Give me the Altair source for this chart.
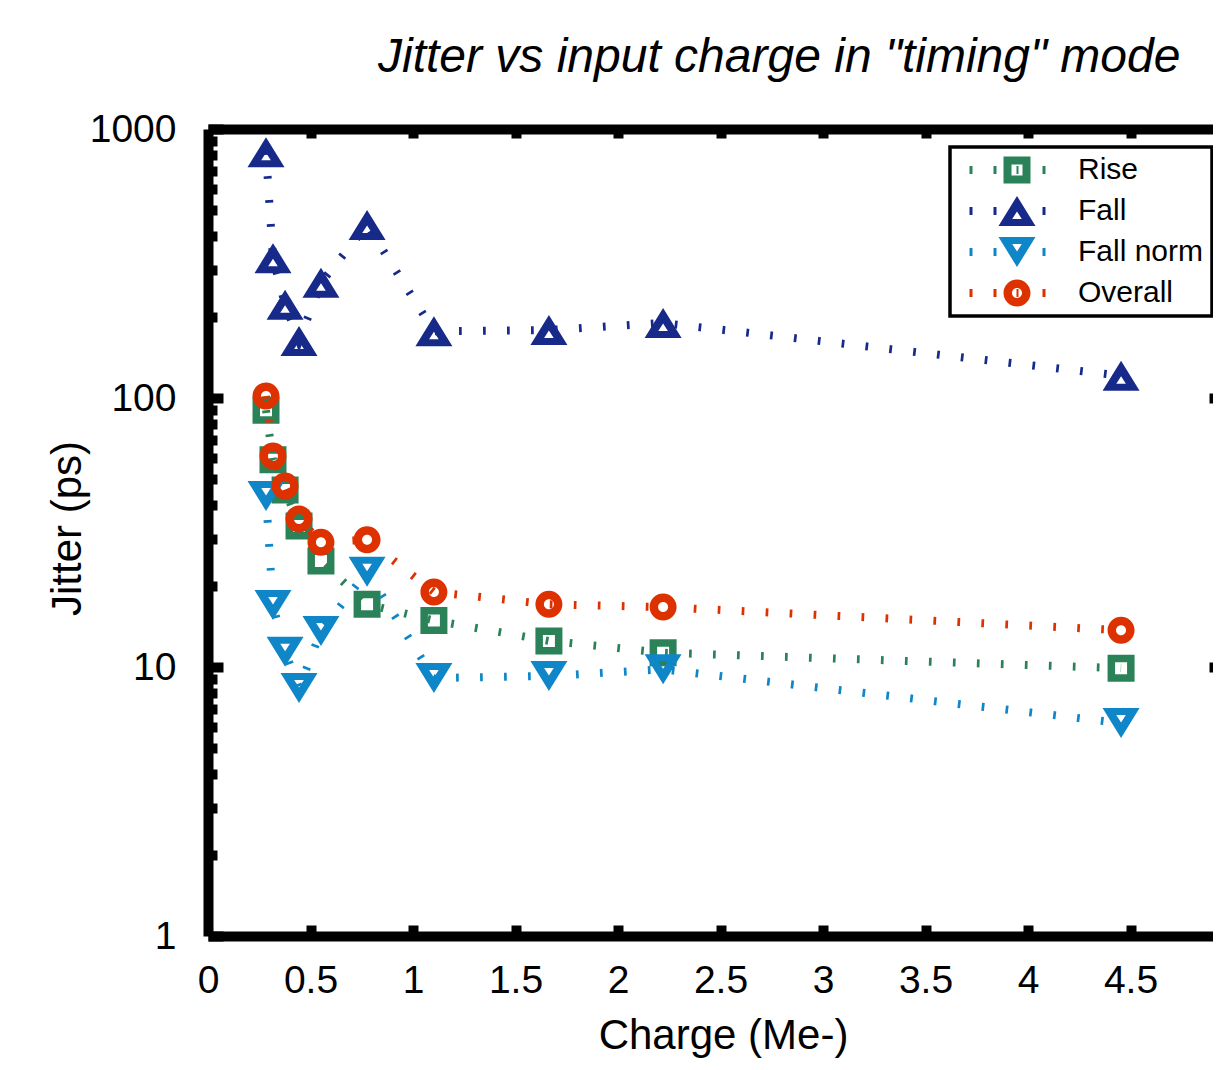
import altair as alt
import pandas as pd

# ---------------- data ----------------
series = ["Rise", "Fall", "Fall norm", "Overall"]
colors = ["#2b8258", "#172a8a", "#0f86c8", "#dd3100"]
charge = [0.283, 0.317, 0.376, 0.444, 0.551, 0.776, 1.102, 1.663, 2.220, 4.454]
rise = [90, 58.9, 45.5, 33.4, 24.8, 17.1, 14.9, 12.5, 11.3, 9.9]
fall = [820, 331, 222, 163, 268, 440, 177, 179, 190, 121]
fall_norm = [43.2, 17.0, 11.4, 8.36, 13.6, 22.6, 9.1, 9.26, 9.8, 6.19]
overall = [101.7, 60.9, 47.1, 35.5, 29.1, 29.7, 19.0, 17.1, 16.7, 13.7]

x_labels = [0, 0.5, 1, 1.5, 2, 2.5, 3, 3.5, 4, 4.5]
x_tick_marks = [0.5, 1, 1.5, 2, 2.5, 3, 3.5, 4, 4.5, 5]
y_labels = [1, 10, 100, 1000]
y_minor = [2, 3, 4, 5, 6, 7, 8, 9, 20, 30, 40, 50, 60, 70, 80, 90,
           200, 300, 400, 500, 600, 700, 800, 900]
y_right = [10, 100]

values = rise + fall + fall_norm + overall
df = pd.DataFrame({
    "charge": charge * len(series),
    "jitter": values,
    "series": [s for s in series for _ in charge],
})

# ---------------- marker shapes (pixel units, size=4) ----------------
def dash(cx, w=3, h=8):
    return f"M{cx - w / 2},{-h / 2}h{w}v{h}h{-w}Z"

def square_ring(o, i):
    return f"M{-o},{-o}H{o}V{o}H{-o}Z M{-i},{-i}V{i}H{i}V{-i}Z"

def circle_ring(o, i):
    return (f"M{-o},0A{o},{o},0,1,0,{o},0A{o},{o},0,1,0,{-o},0Z "
            f"M{-i},0A{i},{i},0,1,1,{i},0A{i},{i},0,1,1,{-i},0Z")

tri_up = "M0,-15L18.5,15L-18.5,15Z M0,0.5L-4.8,8L4.8,8Z"
tri_down = "M0,15L-18.5,-15L18.5,-15Z M0,-0.5L4.8,-8L-4.8,-8Z"

plot_shapes = [square_ring(13.5, 6), tri_up, tri_down, circle_ring(13.5, 5)]

side = " ".join(dash(d) for d in (-46, -22, 27))
legend_shapes = [
    side + " " + square_ring(13.5, 5.5) + " " + dash(0.5, 2, 8),
    side + " " + tri_up,
    side + " " + tri_down,
    side + " " + circle_ring(13.5, 5) + " " + dash(0.5, 2, 8),
]

FONT = "Liberation Sans"
W, H = 1005, 807
xs = alt.Scale(domain=[0, 5], range=[0, 1025], nice=False, zero=False)
ys = alt.Scale(type="log", domain=[1, 1000], nice=False)

base = alt.Chart(df)
layers = []
for s, c, shp in zip(series, colors, plot_shapes):
    sub = base.transform_filter(alt.datum.series == s)
    layers.append(
        sub.mark_line(color=c, strokeWidth=8, strokeDash=[2.7, 21.3]).encode(
            x=alt.X("charge:Q", scale=xs, axis=None),
            y=alt.Y("jitter:Q", scale=ys, axis=None),
        )
    )
    layers.append(
        sub.mark_point(shape=shp, size=4, filled=True, color=c, strokeWidth=0, opacity=1).encode(
            x=alt.X("charge:Q", scale=xs, axis=None),
            y=alt.Y("jitter:Q", scale=ys, axis=None),
        )
    )

# ---------------- legend ----------------
leg = dict(
    title=None, orient="none", legendX=742, legendY=18, padding=8,
    strokeColor="black", fillColor="white",
    labelFont=FONT, labelFontSize=30, labelColor="black", labelLimit=400,
    labelOffset=46, symbolOffset=44, symbolSize=4, symbolStrokeWidth=0,
    symbolOpacity=1, rowPadding=11,
)
legend_layer = base.transform_filter("datum.charge < 0").mark_point(
    size=4, filled=True, opacity=1, strokeWidth=0
).encode(
    x=alt.X("charge:Q", scale=xs, axis=None),
    y=alt.Y("jitter:Q", scale=ys, axis=None),
    color=alt.Color("series:N", scale=alt.Scale(domain=series, range=colors), legend=alt.Legend(**leg)),
    shape=alt.Shape("series:N", scale=alt.Scale(domain=series, range=legend_shapes), legend=alt.Legend(**leg)),
)
layers.append(legend_layer)

# ---------------- axes (carried by empty layers) ----------------
carrier = base.transform_filter("datum.charge < 0").mark_point(opacity=0)
common = dict(grid=False, domainColor="black", tickColor="black", labelColor="black", titleColor="black")

bottom_main = alt.Axis(orient="bottom", values=x_labels, format="~g", ticks=False, tickSize=0,
                       domain=True, domainWidth=10, labelFont=FONT, labelFontSize=39,
                       labelPadding=25, labelFlush=False, labelOverlap=False,
                       title="Charge (Me-)", titleFont=FONT, titleFontSize=42, titleFontWeight="normal",
                       titleBaseline="alphabetic", titleY=112, titleX=515, **common)
left_main = alt.Axis(orient="left", values=y_labels, format="d", ticks=False, tickSize=0,
                     domain=True, domainWidth=10, labelFont=FONT, labelFontSize=39,
                     labelPadding=32, labelOverlap=False,
                     title="Jitter (ps)", titleFont=FONT, titleFontSize=42, titleFontWeight="normal",
                     titleAngle=270, titleBaseline="alphabetic", titleX=-128, titleY=399, **common)
bottom_ticks = alt.Axis(orient="top", offset=-H, values=x_tick_marks, domain=False, labels=False,
                        ticks=True, tickSize=11, tickWidth=10, title=None, **common)
left_major = alt.Axis(orient="right", offset=-W, values=y_labels, domain=False, labels=False,
                      ticks=True, tickSize=15, tickWidth=10, title=None, **common)
top_line = alt.Axis(orient="top", values=x_tick_marks, domain=True, domainWidth=10, labels=False,
                    ticks=False, title=None, **common)
left_minor = alt.Axis(orient="right", offset=-W, values=y_minor, domain=False, labels=False,
                      ticks=True, tickSize=9, tickWidth=10, title=None, **common)
top_ticks = alt.Axis(orient="bottom", offset=-H, values=x_tick_marks, domain=False, labels=False,
                     ticks=True, tickSize=9, tickWidth=10, title=None, **common)
right_ticks = alt.Axis(orient="left", offset=-1025, values=y_right, domain=False, labels=False,
                       ticks=True, tickSize=24, tickWidth=10, title=None, **common)

for xa, ya in [(bottom_main, left_main), (bottom_ticks, left_major),
               (top_line, left_minor), (top_ticks, right_ticks)]:
    layers.insert(0, carrier.encode(
        x=alt.X("charge:Q", scale=xs, axis=xa),
        y=alt.Y("jitter:Q", scale=ys, axis=ya),
    ))

chart = alt.layer(*layers).resolve_axis(x="independent", y="independent").properties(
    width=W,
    height=H,
    autosize=alt.AutoSizeParams(type="none"),
    padding={"left": 200, "top": 121, "right": 0, "bottom": 124},
    title=alt.Title(
        text='Jitter vs input charge in "timing" mode',
        font=FONT, fontSize=48, fontStyle="italic", fontWeight="normal", color="black",
        anchor="start", frame="group", dx=170, dy=47, offset=37, baseline="alphabetic",
    ),
).configure_view(strokeWidth=0).configure_legend(strokeWidth=3.5)

chart.save("out.html", embed_options={"renderer": "svg", "actions": False})
